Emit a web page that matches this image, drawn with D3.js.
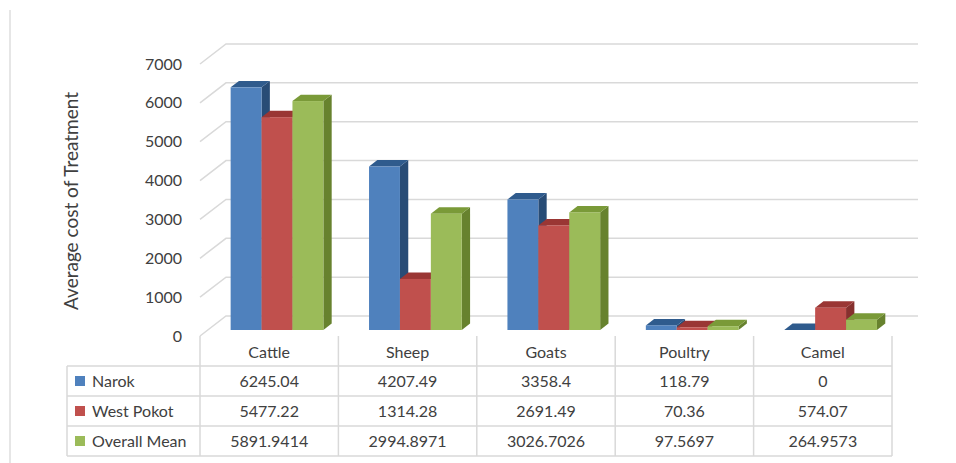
<!DOCTYPE html>
<html>
<head>
<meta charset="utf-8">
<script src="https://cdn.jsdelivr.net/npm/d3@7"></script>
<style>
  body { margin: 0; background: #fff; }
  text { font-family: Lato, "Open Sans", sans-serif; fill: #404040; }
</style>
</head>
<body>
<script>
// chart values
const categories = ['Cattle', 'Sheep', 'Goats', 'Poultry', 'Camel']
const seriesNames = ['Narok', 'West Pokot', 'Overall Mean']
const narok = [6245.04, 4207.49, 3358.4, 118.79, 0]
const westPokot = [5477.22, 1314.28, 2691.49, 70.36, 574.07]
const overallMean = [5891.9414, 2994.8971, 3026.7026, 97.5697, 264.9573]
const yTicks = [0, 1000, 2000, 3000, 4000, 5000, 6000, 7000]
const yTitle = 'Average cost of Treatment'

const series = [narok, westPokot, overallMean]
const colors = {
  front: ['#4f81bd', '#c0504d', '#9bbb59'],
  top: ['#2f5b8d', '#9a3634', '#7a9a38'],
  side: ['#284c76', '#86302e', '#67822e']
}

let width = 956
let height = 463

let svg = d3.select('body')
  .append('svg')
  .attr('width', width)
  .attr('height', height)

// plot front plane
let left = 200
let right = 892
let depth = { dx: 26, dy: -20 }

var x0 = d3.scaleBand().domain(categories).range([left, right]).paddingInner(0.33).paddingOuter(0.165)
var x1 = d3.scaleBand().domain(seriesNames).range([0, x0.bandwidth()])
var y = d3.scaleLinear().domain([0, 7000]).range([336, 64])

function pt(x, yy, f) {
  return [x + f * depth.dx, yy + f * depth.dy]
}

// outer chart edge
svg.append('line')
  .attr('x1', 10).attr('x2', 10)
  .attr('y1', 10).attr('y2', height)
  .attr('stroke', '#e6e6e6')
  .attr('stroke-width', 2)

// gridlines on side + back wall
svg.append('g')
  .selectAll('path')
  .data(yTicks)
  .enter()
  .append('path')
  .attr('d', t => d3.line()([pt(left, y(t), 0), pt(left, y(t), 1), pt(right, y(t), 1)]))
  .attr('fill', 'none')
  .attr('stroke', '#d9d9d9')
  .attr('stroke-width', 1.5)

// tick labels
svg.append('g')
  .selectAll('text')
  .data(yTicks)
  .enter()
  .append('text')
  .attr('x', 182)
  .attr('y', d => y(d))
  .attr('dy', '0.35em')
  .attr('text-anchor', 'end')
  .attr('font-size', 16)
  .text(d => d)

// y axis title
svg.append('text')
  .attr('transform', 'translate(78,201) rotate(-90)')
  .attr('text-anchor', 'middle')
  .attr('font-size', 19)
  .text(yTitle)

// 3d bars
let f0 = 0.3
let f1 = 0.62
let bars = svg.append('g')

categories.forEach((cat, ci) => {
  seriesNames.forEach((s, si) => {
    let v = series[si][ci]
    let xs = x0(cat) + x1(s)
    let w = x1.bandwidth()
    let yTop = y(v)
    let yBase = y(0)

    bars.append('path')
      .attr('d', d3.line()([pt(xs + w, yTop, f0), pt(xs + w, yBase, f0), pt(xs + w, yBase, f1), pt(xs + w, yTop, f1)]) + 'Z')
      .attr('fill', colors.side[si])

    bars.append('path')
      .attr('d', d3.line()([pt(xs, yTop, f0), pt(xs + w, yTop, f0), pt(xs + w, yTop, f1), pt(xs, yTop, f1)]) + 'Z')
      .attr('fill', colors.top[si])

    let [fx, fy] = pt(xs, yTop, f0)
    bars.append('rect')
      .attr('x', fx)
      .attr('y', fy)
      .attr('width', w)
      .attr('height', yBase - yTop)
      .attr('fill', colors.front[si])
  })
})

// data table
let tableLeft = 67
let headTop = 336
let rowTop = 366
let rowH = 30
let tableBottom = rowTop + rowH * seriesNames.length
let grid = svg.append('g').attr('stroke', '#d9d9d9').attr('stroke-width', 1.5)

// column boundaries
let colEdges = categories.map(c => x0(c) - x0.step() * x0.paddingInner() / 2).concat([right])
grid.selectAll('.col')
  .data(colEdges)
  .enter()
  .append('line')
  .attr('x1', d => d).attr('x2', d => d)
  .attr('y1', headTop).attr('y2', tableBottom)

grid.append('line')
  .attr('x1', tableLeft).attr('x2', tableLeft)
  .attr('y1', rowTop).attr('y2', tableBottom)

grid.selectAll('.row')
  .data(d3.range(seriesNames.length + 1))
  .enter()
  .append('line')
  .attr('x1', tableLeft).attr('x2', right)
  .attr('y1', i => rowTop + i * rowH).attr('y2', i => rowTop + i * rowH)

// header labels
svg.append('g')
  .selectAll('text')
  .data(categories)
  .enter()
  .append('text')
  .attr('x', d => x0(d) + x0.bandwidth() / 2)
  .attr('y', (headTop + rowTop) / 2 + 1)
  .attr('dy', '0.35em')
  .attr('text-anchor', 'middle')
  .attr('font-size', 16)
  .text(d => d)

// rows
seriesNames.forEach((s, si) => {
  let cy = rowTop + si * rowH + rowH / 2
  svg.append('rect')
    .attr('x', 75).attr('y', cy - 5)
    .attr('width', 10).attr('height', 10)
    .attr('fill', colors.front[si])
  svg.append('text')
    .attr('x', 92).attr('y', cy)
    .attr('dy', '0.35em')
    .attr('font-size', 16)
    .text(s)
  svg.append('g')
    .selectAll('text')
    .data(series[si])
    .enter()
    .append('text')
    .attr('x', (d, i) => x0(categories[i]) + x0.bandwidth() / 2)
    .attr('y', cy)
    .attr('dy', '0.35em')
    .attr('text-anchor', 'middle')
    .attr('font-size', 16)
    .text(d => d)
})
</script>
</body>
</html>
